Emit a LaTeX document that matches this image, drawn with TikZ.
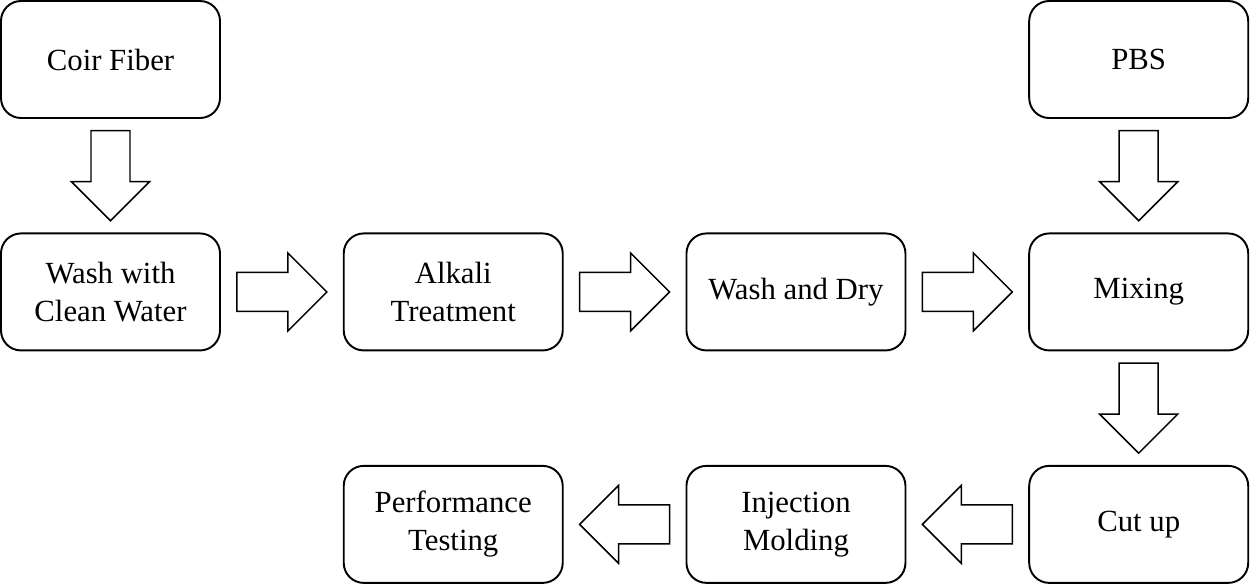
\documentclass[tikz,border=0pt]{standalone}
\usepackage{fontspec}
\setmainfont{Liberation Serif}
\usetikzlibrary{positioning,calc}

\tikzset{
  box/.style={draw, line width=1.1pt, rounded corners=0.4cm, fill=white,
    minimum width=4.38cm, minimum height=2.34cm, align=center,
    font=\fontsize{17.5}{21.6}\selectfont},
  blockarrow/.pic={
    \draw[line width=0.85pt, line join=miter]
      (-0.9,-0.39) -- (0.12,-0.39) -- (0.12,-0.78) -- (0.9,0) -- (0.12,0.78)
      -- (0.12,0.39) -- (-0.9,0.39) -- cycle;
  }
}

\begin{document}
\begin{tikzpicture}[node distance=2.27cm and 2.436cm]
\useasboundingbox (0,0) rectangle (25,-11.68);
\node [box] (coir) at (2.21,-1.19) {Coir Fiber};
\node [box, below=of coir] (wash) {Wash with\\Clean Water};
\node [box, right=of wash] (alkali) {Alkali\\Treatment};
\node [box, right=of alkali] (dry) {Wash and Dry};
\node [box, right=of dry] (mix) {Mixing};
\node [box, above=of mix] (pbs) {PBS};
\node [box, below=of mix] (cut) {Cut up};
\node [box, left=of cut] (mold) {Injection\\Molding};
\node [box, left=of mold] (test) {Performance\\Testing};
\pic [rotate=-90] at ($(coir.south)!0.5!(wash.north)$) {blockarrow};
\pic at ($(wash.east)!0.5!(alkali.west)$) {blockarrow};
\pic at ($(alkali.east)!0.5!(dry.west)$) {blockarrow};
\pic at ($(dry.east)!0.5!(mix.west)$) {blockarrow};
\pic [rotate=-90] at ($(pbs.south)!0.5!(mix.north)$) {blockarrow};
\pic [rotate=-90] at ($(mix.south)!0.5!(cut.north)$) {blockarrow};
\pic [rotate=180] at ($(cut.west)!0.5!(mold.east)$) {blockarrow};
\pic [rotate=180] at ($(mold.west)!0.5!(test.east)$) {blockarrow};
\end{tikzpicture}
\end{document}
